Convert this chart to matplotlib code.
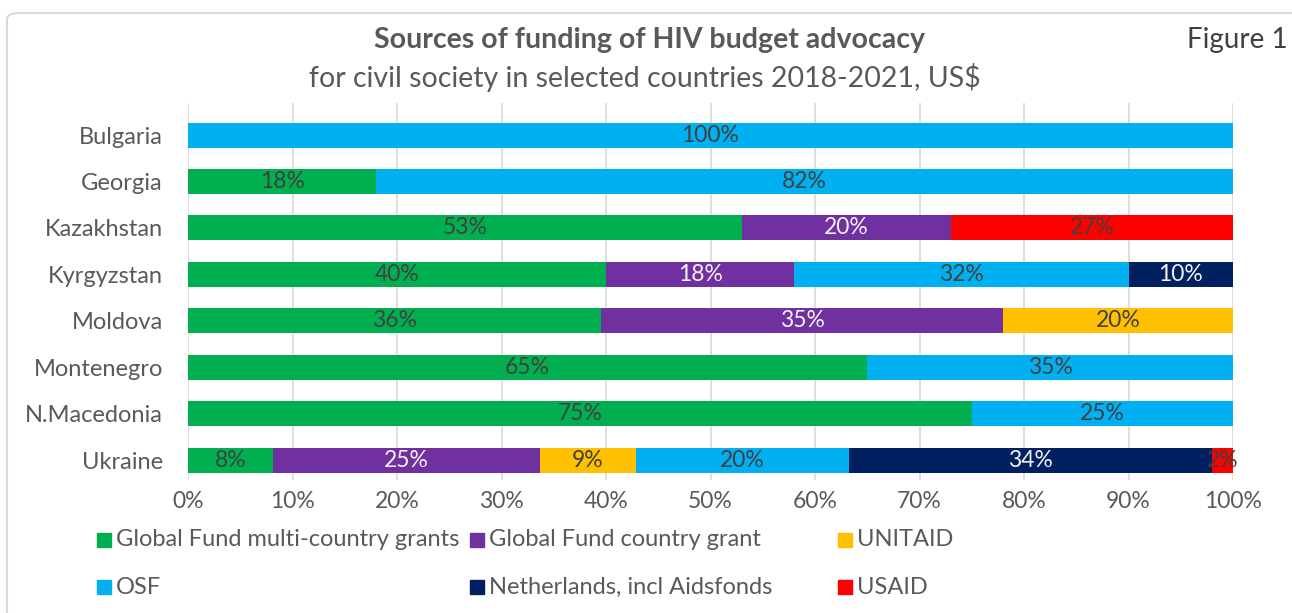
import matplotlib
matplotlib.use("Agg")
import matplotlib.pyplot as plt
from matplotlib.patches import Rectangle, FancyBboxPatch
import numpy as np

countries = ["Bulgaria", "Georgia", "Kazakhstan", "Kyrgyzstan", "Moldova",
             "Montenegro", "N.Macedonia", "Ukraine"]
series = ["Global Fund multi-country grants", "Global Fund country grant", "UNITAID",
          "OSF", "Netherlands, incl Aidsfonds", "USAID"]
colors = ["#00B050", "#7030A0", "#FFC000", "#00B0F0", "#002060", "#FF0000"]
label_colors = ["#404040", "#F2F2F2", "#404040", "#404040", "#F2F2F2", "#404040"]

# values per series (labels shown as read), 0 = absent
gf_multi = [0, 18, 53, 40, 36, 65, 75, 8]
gf_country = [0, 0, 20, 18, 35, 0, 0, 25]
unitaid = [0, 0, 0, 0, 20, 0, 0, 9]
osf = [100, 82, 0, 32, 0, 35, 25, 20]
netherlands = [0, 0, 0, 10, 0, 0, 0, 34]
usaid = [0, 0, 27, 0, 0, 0, 0, 2]
data = np.array([gf_multi, gf_country, unitaid, osf, netherlands, usaid], dtype=float)

xticks = [0, 10, 20, 30, 40, 50, 60, 70, 80, 90, 100]

plt.rcParams['font.family'] = ['Lato', 'DejaVu Sans']
W, H = 1292, 613
fig = plt.figure(figsize=(W / 100, H / 100), dpi=100)

# frame
fig.add_artist(FancyBboxPatch((7 / W, -0.1), 1.2, 1 - 13 / H + 0.1,
                              boxstyle="round,pad=0,rounding_size=0.01",
                              transform=fig.transFigure, fill=False,
                              edgecolor="#D9D9D9", linewidth=1.5))

ax = fig.add_axes([188 / W, 1 - 480 / H, (1233 - 188) / W, (480 - 103) / H])
shares = data / data.sum(axis=0) * 100
y = np.arange(len(countries))
left = np.zeros(len(countries))
for i in range(len(series)):
    ax.barh(y, shares[i], left=left, height=0.54, color=colors[i], zorder=3)
    for j in range(len(countries)):
        if data[i, j] > 0:
            ax.text(left[j] + shares[i, j] / 2, y[j], f"{int(data[i, j])}%",
                    ha="center", va="center", fontsize=16.5,
                    color=label_colors[i], zorder=4)
    left += shares[i]

ax.set_xlim(0, 100)
ax.set_ylim(7.43, -0.69)
ax.set_xticks(xticks)
ax.set_xticklabels([f"{t}%" for t in xticks])
ax.set_yticks(y)
ax.set_yticklabels(countries)
ax.tick_params(axis="x", length=0, labelsize=16.5, labelcolor="#595959", pad=8)
ax.tick_params(axis="y", length=0, labelsize=17, labelcolor="#595959", pad=18)
ax.grid(axis="x", color="#D9D9D9", linewidth=1.2, zorder=0)
for s in ax.spines.values():
    s.set_visible(False)

fig.text(649 / W, 1 - 40 / H, "Sources of funding of HIV budget advocacy",
         ha="center", va="center", fontsize=20.5, fontweight="bold", color="#595959")
fig.text(645 / W, 1 - 77 / H, "for civil society in selected countries 2018-2021, US$",
         ha="center", va="center", fontsize=20.5, color="#595959")
fig.text(1288 / W, 1 - 40 / H, "Figure 1", ha="right", va="center",
         fontsize=20, color="#404040")

# legend
col_x = [97, 470, 838]
row_y = [540, 587]
for i, name in enumerate(series):
    cx = col_x[i % 3]
    ry = row_y[i // 3]
    fig.add_artist(Rectangle((cx / W, 1 - (ry + 7) / H), 14 / W, 14 / H,
                             transform=fig.transFigure, color=colors[i]))
    fig.text((cx + 19) / W, 1 - ry / H, name, ha="left", va="center",
             fontsize=17, color="#595959")

fig.savefig("out.png", dpi=100)
